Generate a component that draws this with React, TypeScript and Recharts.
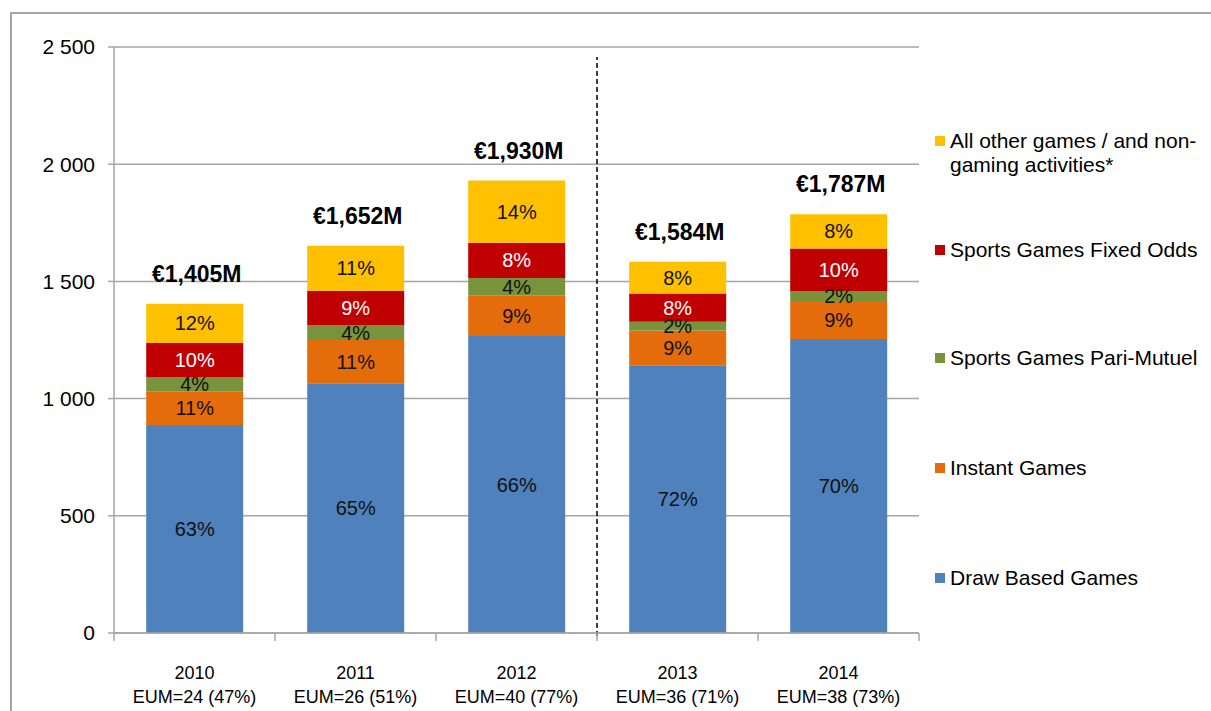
import React from 'react';
import { BarChart, Bar, XAxis, YAxis, CartesianGrid, LabelList, ReferenceLine } from 'recharts';

const years = ['2010', '2011', '2012', '2013', '2014'];
const eumLabels = ['EUM=24 (47%)', 'EUM=26 (51%)', 'EUM=40 (77%)', 'EUM=36 (71%)', 'EUM=38 (73%)'];
const totalLabels = ['€1,405M', '€1,652M', '€1,930M', '€1,584M', '€1,787M'];

const drawValues = [887, 1066, 1267, 1142, 1254];
const instantValues = [144, 184, 174, 148, 162];
const pariValues = [61, 64, 74, 38, 43];
const fixedValues = [145, 146, 150, 120, 181];
const otherValues = [168, 192, 265, 136, 147];

const drawPct = ['63%', '65%', '66%', '72%', '70%'];
const instantPct = ['11%', '11%', '9%', '9%', '9%'];
const pariPct = ['4%', '4%', '4%', '2%', '2%'];
const fixedPct = ['10%', '9%', '8%', '8%', '10%'];
const otherPct = ['12%', '11%', '14%', '8%', '8%'];

const yTicks = [0, 500, 1000, 1500, 2000, 2500];
const dividerAfter = '2012';

const series = [
  { key: 'draw', pct: 'drawPct', name: 'Draw Based Games', color: '#4F81BD', text: '#111111' },
  { key: 'instant', pct: 'instantPct', name: 'Instant Games', color: '#E46C0A', text: '#111111' },
  { key: 'pari', pct: 'pariPct', name: 'Sports Games Pari-Mutuel', color: '#77933C', text: '#111111' },
  { key: 'fixed', pct: 'fixedPct', name: 'Sports Games Fixed Odds', color: '#C00000', text: '#FFFFFF' },
  { key: 'other', pct: 'otherPct', name: 'All other games / and non-gaming activities*', color: '#FFC000', text: '#111111' },
];

const data = years.map((y, i) => ({
  year: y,
  eum: eumLabels[i],
  total: totalLabels[i],
  draw: drawValues[i],
  instant: instantValues[i],
  pari: pariValues[i],
  fixed: fixedValues[i],
  other: otherValues[i],
  drawPct: drawPct[i],
  instantPct: instantPct[i],
  pariPct: pariPct[i],
  fixedPct: fixedPct[i],
  otherPct: otherPct[i],
}));

const FONT = '"Liberation Sans", Arial, sans-serif';
const GRAY = '#a6a6a6';

const XTick = (props: any) => {
  const { x, y, payload, index } = props;
  const off = payload && payload.offset != null ? payload.offset : 80.5;
  const y0 = y - 8;
  const d = data[index] || data.find((r) => r.year === payload.value);
  return (
    <g>
      <line x1={x - off} y1={y0} x2={x - off} y2={y0 + 8} stroke={GRAY} strokeWidth={1.5} />
      {index === data.length - 1 && (
        <line x1={x + off} y1={y0} x2={x + off} y2={y0 + 8} stroke={GRAY} strokeWidth={1.5} />
      )}
      <text x={x} y={y0 + 40} textAnchor="middle" dominantBaseline="central" fontSize={18} fill="#000" fontFamily={FONT}>
        {payload.value}
      </text>
      <text x={x} y={y0 + 64} textAnchor="middle" dominantBaseline="central" fontSize={18} fill="#000" fontFamily={FONT}>
        {d ? d.eum : ''}
      </text>
    </g>
  );
};

const TotalLabel = (props: any) => {
  const { x, y, width, index } = props;
  return (
    <text
      x={x + width / 2 + 2}
      y={y - 30}
      textAnchor="middle"
      dominantBaseline="central"
      fontSize={23}
      fontWeight="bold"
      fill="#000"
      fontFamily={FONT}
    >
      {data[index].total}
    </text>
  );
};

const legendTop = [141, 250, 358, 468, 578];

export default function App() {
  const legendItems = [...series].reverse();
  return (
    <div style={{ position: 'fixed', left: 0, top: 0, width: 1211, height: 711, overflow: 'hidden', background: '#fff', fontFamily: FONT }}>
      <div style={{ position: 'absolute', left: 10, top: 12, width: 1400, height: 900, border: `2px solid ${GRAY}`, boxSizing: 'border-box' }} />
      <div style={{ position: 'absolute', left: 0, top: 0 }}>
        <BarChart width={1211} height={711} data={data} margin={{ top: 47, right: 292, left: 54, bottom: 18 }} barCategoryGap="20%">
          <CartesianGrid vertical={false} stroke={GRAY} strokeWidth={1.5} />
          <XAxis
            dataKey="year"
            height={60}
            axisLine={{ stroke: GRAY, strokeWidth: 1.5 }}
            tickLine={false}
            tickSize={8}
            tickMargin={0}
            tick={<XTick />}
            interval={0}
          />
          <YAxis
            width={60}
            domain={[0, 2500]}
            ticks={yTicks}
            interval={0}
            tickFormatter={(v: number) => (v >= 1000 ? `${Math.floor(v / 1000)} ${String(v % 1000).padStart(3, '0')}` : String(v))}
            axisLine={{ stroke: GRAY, strokeWidth: 1.5 }}
            tickLine={{ stroke: GRAY, strokeWidth: 1.5 }}
            tickSize={6}
            tickMargin={13}
            tick={{ fontSize: 21, fill: '#000', fontFamily: FONT }}
          />
          {series.map((s) => (
            <Bar key={s.key} dataKey={s.key} stackId="a" fill={s.color} isAnimationActive={false}>
              <LabelList dataKey={s.pct} position="center" fill={s.text} fontSize={20} fontFamily={FONT} />
              {s.key === 'other' && <LabelList dataKey="total" content={<TotalLabel />} />}
            </Bar>
          ))}
          <ReferenceLine
            x={dividerAfter}
            position="end"
            stroke="#000"
            strokeWidth={1.5}
            strokeDasharray="5 3"
            shape={(p: any) => (
              <line x1={p.x1} y1={p.y1 + 3} x2={p.x2} y2={p.y2 + 10} stroke="#000" strokeWidth={1.5} strokeDasharray="5 3" />
            )}
          />
        </BarChart>
      </div>
      {legendItems.map((s, i) => (
        <div key={s.key} style={{ position: 'absolute', left: 935, top: legendTop[i] - 12, display: 'flex', alignItems: 'flex-start' }}>
          <div style={{ width: 10, height: 10, background: s.color, marginTop: 7, marginRight: 5, flexShrink: 0 }} />
          <div style={{ width: 262, fontSize: 21, lineHeight: '24px', color: '#000' }}>{s.name}</div>
        </div>
      ))}
    </div>
  );
}
